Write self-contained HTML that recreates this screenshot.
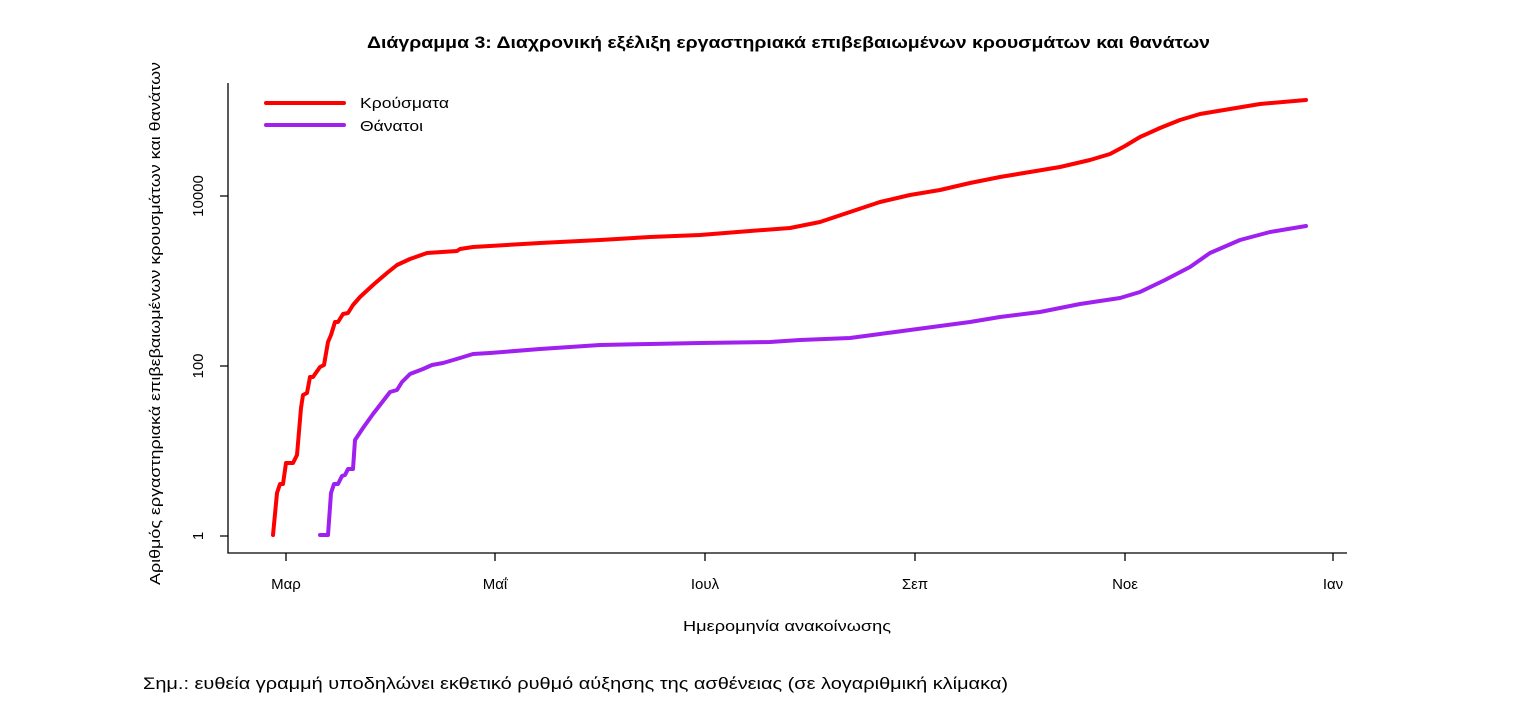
<!DOCTYPE html>
<html><head><meta charset="utf-8"><style>body{margin:0;background:#fff}svg{display:block}text{font-family:"Liberation Sans","DejaVu Sans",sans-serif;fill:#000}</style></head>
<body>
<svg width="1518" height="712" viewBox="0 0 1518 712">
<text x="367" y="48" font-size="17" font-weight="bold" textLength="843" lengthAdjust="spacingAndGlyphs">Διάγραμμα 3: Διαχρονική εξέλιξη εργαστηριακά επιβεβαιωμένων κρουσμάτων και θανάτων</text>
<g stroke="#000" stroke-width="1.3" fill="none">
<path d="M228,83V553H1347"/>
<path d="M228,536H220M228,366H220M228,196H220"/>
<path d="M286,553v8M495,553v8M705,553v8M915,553v8M1125,553v8M1333,553v8"/>
</g>
<g font-size="15" text-anchor="middle">
<text transform="translate(203,536) rotate(-90)">1</text>
<text transform="translate(203,366) rotate(-90)">100</text>
<text transform="translate(203,196) rotate(-90)">10000</text>
<text x="286" y="589">Μαρ</text><text x="495" y="589">Μαΐ</text><text x="705" y="589">Ιουλ</text>
<text x="915" y="589">Σεπ</text><text x="1125" y="589">Νοε</text><text x="1333" y="589">Ιαν</text>
</g>
<g font-size="15">
<text x="683" y="631" textLength="208" lengthAdjust="spacingAndGlyphs">Ημερομηνία ανακοίνωσης</text>
<text transform="translate(160,585) rotate(-90)" textLength="523" lengthAdjust="spacingAndGlyphs">Αριθμός εργαστηριακά επιβεβαιωμένων κρουσμάτων και θανάτων</text>
</g>
<text x="143" y="689" font-size="17" textLength="865" lengthAdjust="spacingAndGlyphs">Σημ.: ευθεία γραμμή υποδηλώνει εκθετικό ρυθμό αύξησης της ασθένειας (σε λογαριθμική κλίμακα)</text>
<g fill="none" stroke-width="4" stroke-linejoin="round" stroke-linecap="round">
<path stroke="#f00" d="M273,535L277,493L280,484L283,484L286,463L293,463L297,455L301,408L303,395L307,393L310,377L313,377L320,367L324,365L328,342L331,335L335,322L338,322L343,314L348,313L353,305L360,297L373,285L387,273L397,265L410,259L427,253L457,251L460,249L473,247L540,243L600,240L650,237L700,235L750,231L790,228L820,222L850,212L880,202L910,195L940,190L970,183L1000,177L1030,172L1060,167L1090,160L1110,154L1125,146L1140,137L1160,128L1180,120L1200,114L1230,109L1260,104L1306,100"/>
<path stroke="#a020f0" d="M320,535L328,535L331,493L334,484L338,484L342,476L345,475L348,469L353,469L355,440L363,428L373,414L380,405L390,392L397,390L402,382L410,374L423,369L432,365L443,363L460,358L473,354L490,353L540,349L600,345L650,344L700,343L770,342L800,340L850,338L880,334L910,330L940,326L970,322L1000,317L1040,312L1080,304L1120,298L1140,292L1165,280L1190,267L1210,253L1240,240L1270,232L1306,226"/>
<path stroke="#f00" d="M266,103H344"/>
<path stroke="#a020f0" d="M266,125H344"/>
</g>
<text x="360" y="108" font-size="15" textLength="89" lengthAdjust="spacingAndGlyphs">Κρούσματα</text>
<text x="360" y="131" font-size="15" textLength="63" lengthAdjust="spacingAndGlyphs">Θάνατοι</text>
</svg>
</body></html>
